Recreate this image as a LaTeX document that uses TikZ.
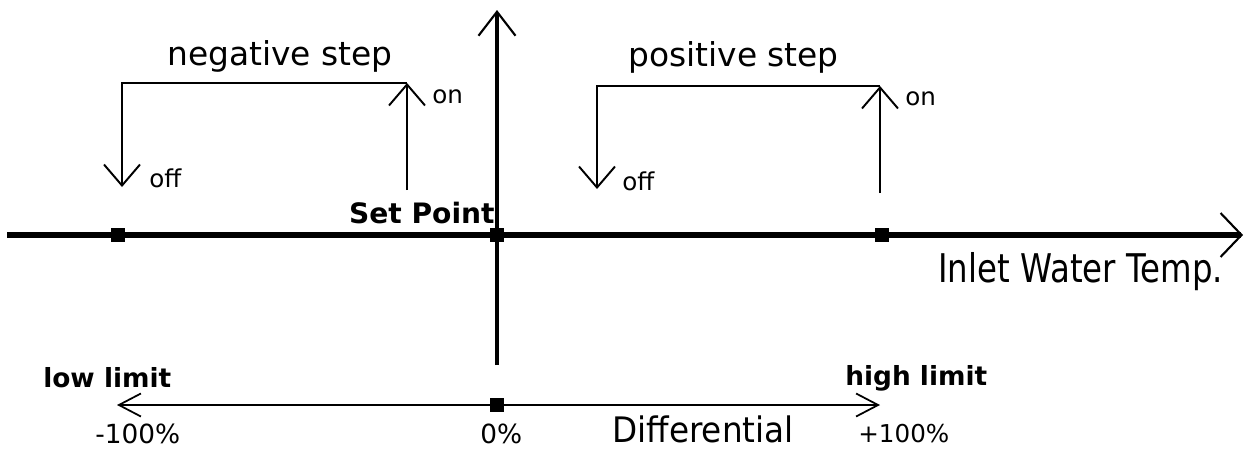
\documentclass[tikz,border=0pt]{standalone}
\usepackage{fontspec}
\setmainfont{DejaVu Sans}
\usetikzlibrary{arrows.meta}

\begin{document}
\begin{tikzpicture}[
  x=0.02cm, y=-0.02cm,
  lbl/.style={inner sep=0, anchor=base west},
  marker/.style={fill, minimum size=0.28cm, inner sep=0},
  axisline/.style={line width=3.3pt, -{Straight Barb[length=0.42cm,width=0.88cm,line width=1.2pt]}},
  vaxis/.style={line width=2.3pt, -{Straight Barb[length=0.48cm,width=0.74cm,line width=1.2pt]}},
  stepline/.style={line width=1.1pt, -{Straight Barb[length=0.42cm,width=0.72cm,line width=1.1pt]}},
  diffline/.style={line width=1.1pt, {Straight Barb[length=0.44cm,width=0.46cm,line width=1pt]}-{Straight Barb[length=0.44cm,width=0.46cm,line width=1pt]}}
]
  \useasboundingbox (0,0) rectangle (1248,450);

  \coordinate (xstart) at (7,235);
  \coordinate (xend) at (1243,235);
  \coordinate (ystart) at (497,365);
  \coordinate (yend) at (497,10);
  \draw[axisline] (xstart) -- (xend);
  \draw[vaxis] (ystart) -- (yend);

  \node[marker] (lowmark) at (118,235) {};
  \node[marker] (spmark) at (497,235) {};
  \node[marker] (highmark) at (882,235) {};

  \coordinate (negoff) at (122,187);
  \coordinate (negtopl) at (122,83);
  \coordinate (negtopr) at (407,83);
  \coordinate (negon) at (407,190);
  \draw[stepline] (negtopr) -- (negtopl) -- (negoff);
  \draw[stepline] (negon) -- (negtopr);

  \coordinate (posoff) at (597,189);
  \coordinate (postopl) at (597,86);
  \coordinate (postopr) at (880,86);
  \coordinate (poson) at (880,193);
  \draw[stepline] (postopr) -- (postopl) -- (posoff);
  \draw[stepline] (poson) -- (postopr);

  \node[lbl, font=\fontsize{18.7}{22}\selectfont] (negtitle) at (167,65) {negative step};
  \node[lbl, font=\fontsize{18.7}{22}\selectfont] (postitle) at (628,66) {positive step};
  \node[lbl, font=\fontsize{14}{16}\selectfont] (negonlbl) at (432,103) {on};
  \node[lbl, font=\fontsize{14}{16}\selectfont] (negofflbl) at (149,187) {off};
  \node[lbl, font=\fontsize{14}{16}\selectfont] (posonlbl) at (905,105) {on};
  \node[lbl, font=\fontsize{14}{16}\selectfont] (posofflbl) at (622,190) {off};
  \node[lbl, anchor=base east, font=\fontsize{16}{18}\selectfont\bfseries] (setpoint) at (495,223) {Set Point};
  \node[lbl, xscale=0.82, font=\fontsize{22.5}{26}\selectfont] (inlet) at (938,282) {Inlet Water Temp.};

  \coordinate (difflow) at (117,405);
  \coordinate (diffhigh) at (880,405);
  \draw[diffline] (difflow) -- (diffhigh);
  \node[marker] (zeromark) at (497,405) {};

  \node[lbl, font=\fontsize{15}{18}\selectfont\bfseries] (lowlimit) at (43,387) {low limit};
  \node[lbl, font=\fontsize{15}{18}\selectfont\bfseries] (highlimit) at (845,385) {high limit};
  \node[lbl, font=\fontsize{15}{18}\selectfont] (minuslbl) at (95,443) {-100\%};
  \node[lbl, font=\fontsize{15}{18}\selectfont] (zerolbl) at (480,443) {0\%};
  \node[lbl, xscale=0.93, font=\fontsize{20}{24}\selectfont] (difflbl) at (612,442) {Differential};
  \node[lbl, font=\fontsize{14}{16}\selectfont] (pluslbl) at (858,442) {+100\%};
\end{tikzpicture}
\end{document}
